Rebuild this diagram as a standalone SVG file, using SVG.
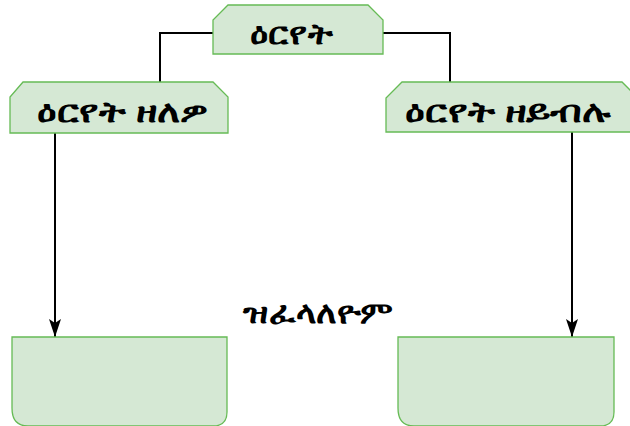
<svg xmlns="http://www.w3.org/2000/svg" width="630" height="426" viewBox="0 0 630 426">
<style>
.box{fill:#d5e8d4;stroke:#66bb55;stroke-width:1.3}
.conn{fill:none;stroke:#000;stroke-width:2}
.t{font-family:"Noto Sans","DejaVu Sans",sans-serif;font-weight:bold;fill:#000;font-size:30px}
</style>
<defs>
<marker id="arr" markerWidth="18" markerHeight="12" refX="18" refY="6" orient="auto" markerUnits="userSpaceOnUse" viewBox="0 0 18 12">
<path d="M0,0 L18,6 L0,12 L4,6 Z" fill="#000"/>
</marker>
</defs>
<rect width="630" height="426" fill="#fff"/>
<g id="connectors">
<path class="conn" d="M213,33 H160 V82"/>
<path class="conn" d="M383,33 H450 V82"/>
<path class="conn" d="M55,133 V337" marker-end="url(#arr)"/>
<path class="conn" d="M572,132 V337" marker-end="url(#arr)"/>
</g>
<g id="top">
<path class="box" d="M228,5 H368 L383,20 V54 H213 V20 Z"/>
<text class="t" x="250" y="44" textLength="82" lengthAdjust="spacingAndGlyphs">ዕርየት</text>
</g>
<g id="left">
<path class="box" d="M23,82 H213 L228,97 V133 H10 V97 Z"/>
<text class="t" x="37" y="122" textLength="171" lengthAdjust="spacingAndGlyphs">ዕርየት ዘለዎ</text>
</g>
<g id="right">
<path class="box" d="M402,82 H622 L638,98 V132 H386 V98 Z"/>
<text class="t" x="405" y="122" textLength="205" lengthAdjust="spacingAndGlyphs">ዕርየት ዘይብሉ</text>
</g>
<g id="middle">
<text class="t" x="243" y="323" textLength="150" lengthAdjust="spacingAndGlyphs">ዝፈላለዮም</text>
</g>
<g id="bottom-left">
<path class="box" d="M12,337 H227 V412 Q227,426 213,426 H28 Q12,426 12,408 Z"/>
</g>
<g id="bottom-right">
<path class="box" d="M398,337 H614 V412 Q614,426 600,426 H414 Q398,426 398,408 Z"/>
</g>
</svg>
